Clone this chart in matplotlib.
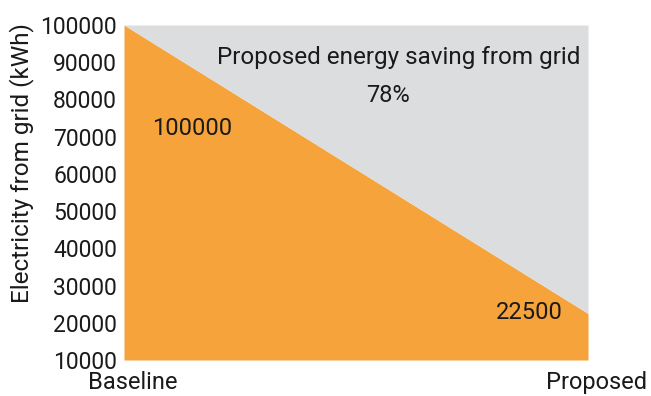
import matplotlib
matplotlib.use('Agg')
import matplotlib.pyplot as plt
import matplotlib.transforms as mtransforms

categories = ['Baseline', 'Proposed']
grid_kwh = [100000, 22500]
ceiling = 100000
saving_label = 'Proposed energy saving from grid'
saving_pct = '78%'

orange = '#F5A33A'
grey = '#DCDDDF'

plt.rcParams['font.family'] = ['Roboto', 'DejaVu Sans']

fig = plt.figure(figsize=(6.51, 3.96), dpi=100)
ax = fig.add_axes([124 / 651, 1 - 360 / 396, 464 / 651, 335 / 396])

x = list(range(len(categories)))
ax.fill_between(x, 10000, grid_kwh, color=orange, linewidth=0)
ax.fill_between(x, grid_kwh, ceiling, color=grey, linewidth=0)

ax.set_xlim(0, 1)
ax.set_ylim(10000, 100000)
ax.set_yticks(range(10000, 100001, 10000))
ax.set_xticks(x)
ax.set_xticklabels(categories)
ax.tick_params(axis='y', length=0, labelsize=16.5, colors='#1a1a1a', pad=5)
ax.tick_params(axis='x', length=0, labelsize=17, colors='#1a1a1a', pad=8)
shift = mtransforms.ScaledTranslation(9 / 100, 0, fig.dpi_scale_trans)
for lbl in ax.get_xticklabels():
    lbl.set_transform(lbl.get_transform() + shift)
for s in ax.spines.values():
    s.set_visible(False)

fig.text(22 / 651, 1 - 163 / 396, 'Electricity from grid (kWh)', rotation=90,
         ha='center', va='center', fontsize=17.5, color='#1a1a1a')

ax.text(0.147, 72300, str(grid_kwh[0]), ha='center', va='center', fontsize=17, color='#1a1a1a')
ax.text(0.946, 22800, str(grid_kwh[1]), ha='right', va='center', fontsize=17, color='#1a1a1a')
ax.text(0.983, 91300, saving_label, ha='right', va='center', fontsize=17.5, color='#1a1a1a')
ax.text(0.569, 81000, saving_pct, ha='center', va='center', fontsize=17, color='#1a1a1a')

fig.savefig('out.png', dpi=100)
